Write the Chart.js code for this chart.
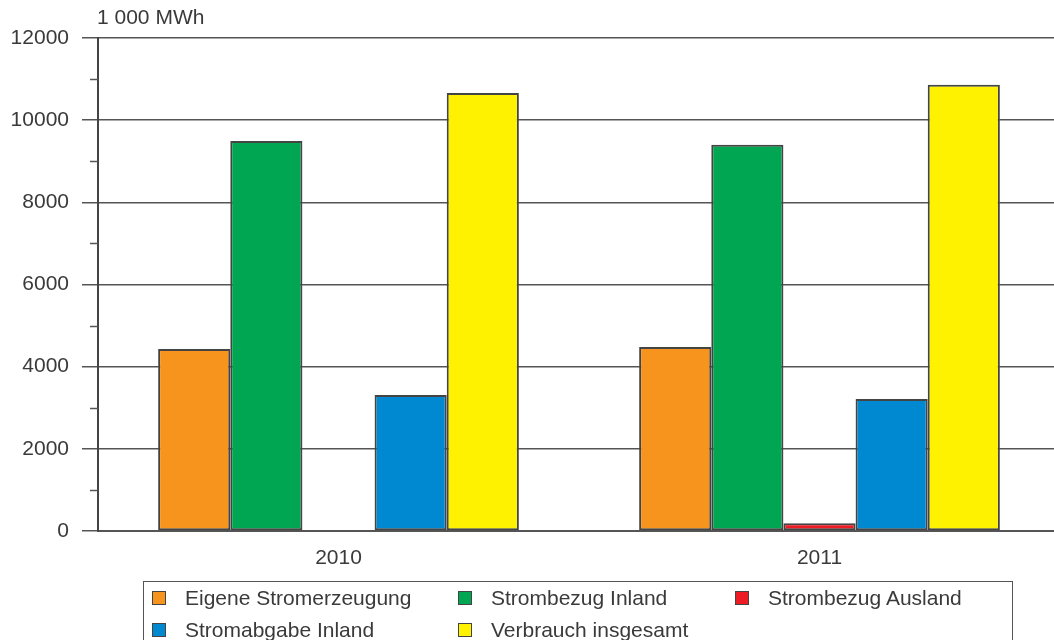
<!DOCTYPE html>
<html>
<head>
<meta charset="utf-8">
<script src="https://cdn.jsdelivr.net/npm/chart.js@4/dist/chart.umd.min.js"></script>
<style>
  html,body{margin:0;padding:0;background:#fff}
  #wrap{position:relative;width:1054px;height:640px;overflow:hidden}
  #c{position:absolute;left:0;top:0}
  #lg{position:absolute;left:143px;top:581px;width:870px;height:80px;border:1.5px solid #555;box-sizing:border-box;
      display:grid;grid-template-columns:306px 277px 270px;grid-auto-rows:32px;padding:0 0 0 8px;
      font-family:"Liberation Sans",Arial,sans-serif;font-size:21px;color:#3a3a3a}
  #lg .it{display:flex;align-items:center}
  #lg .sw{width:12px;height:12px;border:1.5px solid #444;margin-right:19px;flex:none}
</style>
</head>
<body>
<div id="wrap">
  <canvas id="c" width="1060" height="640"></canvas>
  <div id="lg"></div>
</div>
<script>
// data (1 000 MWh)
const years=['2010','2011'];
const seriesNames=['Eigene Stromerzeugung','Strombezug Inland','Strombezug Ausland','Stromabgabe Inland','Verbrauch insgesamt'];
const eigene=[4430,4480];
const bezugInland=[9490,9400];
const bezugAusland=[0,190];
const abgabeInland=[3310,3210];
const verbrauch=[10660,10860];
const seriesColors=['#F7941D','#00A651','#ED1C24','#0088D1','#FFF200'];
const minorTicks=[1000,3000,5000,7000,9000,11000];
const unitLabel='1 000 MWh';

const FONT='"Liberation Sans", Arial, sans-serif';
const seriesData=[eigene,bezugInland,bezugAusland,abgabeInland,verbrauch];

const extras={
  id:'extras',
  afterDraw(ch){
    const ctx=ch.ctx,y=ch.scales.y,a=ch.chartArea;
    ctx.save();
    ctx.strokeStyle='#555';ctx.lineWidth=1.5;
    minorTicks.forEach(v=>{
      const py=Math.round(y.getPixelForValue(v))+0.5;
      ctx.beginPath();ctx.moveTo(a.left-8,py);ctx.lineTo(a.left,py);ctx.stroke();
    });
    ctx.fillStyle='#3a3a3a';ctx.font='21px '+FONT;ctx.textBaseline='middle';ctx.textAlign='left';
    ctx.fillText(unitLabel,97,18);
    ctx.restore();
  }
};

new Chart(document.getElementById('c'),{
  type:'bar',
  data:{
    labels:years,
    datasets:seriesNames.map((n,i)=>({
      label:n,data:seriesData[i],backgroundColor:seriesColors[i],
      borderColor:'#444',borderWidth:2,borderSkipped:false
    }))
  },
  options:{
    responsive:false,animation:false,
    layout:{padding:{top:38,right:0,bottom:59,left:0}},
    datasets:{bar:{categoryPercentage:0.75,barPercentage:1.0}},
    plugins:{legend:{display:false},tooltip:{enabled:false}},
    scales:{
      x:{
        grid:{display:false},
        border:{display:true,color:'#555',width:2},
        ticks:{color:'#3a3a3a',font:{family:FONT,size:21},padding:7},
        afterFit(s){s.height=50;}
      },
      y:{
        min:0,max:12000,
        ticks:{stepSize:2000,color:'#3a3a3a',font:{family:FONT,size:21},padding:13,callback:v=>String(v)},
        grid:{color:'#555',lineWidth:1.5,tickLength:16,tickColor:'#555'},
        border:{display:true,color:'#444',width:2},
        afterFit(s){s.width=98;}
      }
    }
  },
  plugins:[extras]
});

// legend built from the same series arrays
const lg=document.getElementById('lg');
seriesNames.forEach((n,i)=>{
  const d=document.createElement('div');d.className='it';
  d.innerHTML='<span class="sw" style="background:'+seriesColors[i]+'"></span>'+n;
  lg.appendChild(d);
});
</script>
</body>
</html>
